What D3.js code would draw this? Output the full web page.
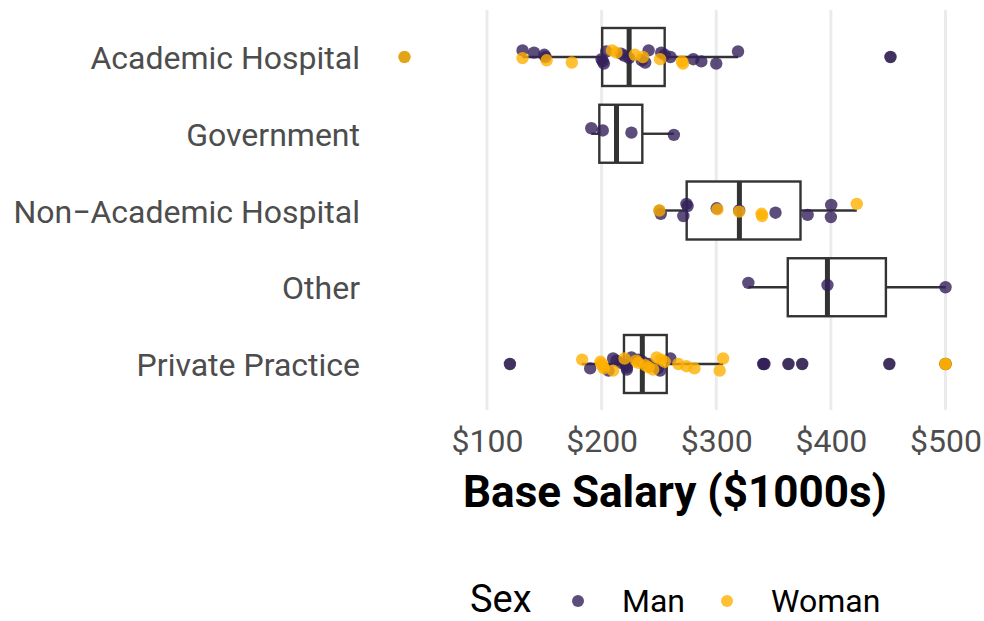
<!DOCTYPE html>
<html>
<head>
<meta charset="utf-8">
<script src="https://cdn.jsdelivr.net/npm/d3@7"></script>
<style>
  html, body { margin: 0; padding: 0; background: #fff; }
  svg { display: block; font-family: Roboto, "Noto Sans", sans-serif; }
</style>
</head>
<body>
<svg id="chart" width="984" height="621"></svg>
<script>
// ---------- data (base salary, $1000s) ----------
const categories = ["Academic Hospital", "Government", "Non\u2212Academic Hospital", "Other", "Private Practice"];
const sexes = ["Man", "Woman"];
const xTicks = [100, 200, 300, 400, 500];

const academicMen   = [131, 141, 150, 151, 200, 201, 202, 204, 217, 220, 224, 235, 238, 241, 252, 255, 260, 280, 287, 300, 319, 452];
const academicWomen = [28, 131, 152, 174, 209, 213, 229, 236, 251, 270, 271];
const governmentMen   = [191, 201, 226, 263];
const governmentWomen = [];
const nonAcademicMen   = [251.6, 271.3, 274, 275, 300.4, 320, 351.7, 379.7, 400, 400.3];
const nonAcademicWomen = [250.4, 301, 320, 339.5, 340, 422.6];
const otherMen   = [328, 397, 500];
const otherWomen = [];
const privateMen   = [120, 190, 206, 210, 213, 217, 221, 222, 222, 226, 232, 236, 241, 242, 249, 251, 260, 341, 342, 363, 375, 451, 500];
const privateWomen = [183, 199, 200, 201, 202, 210, 220, 230, 232, 238, 241, 245, 248, 252, 255, 267, 274, 281, 303, 306, 500, 500];

// box-plot summaries (lower whisker, Q1, median, Q3, upper whisker)
const whiskerLow  = [131, 191, 250.5, 328, 182.6];
const quart1      = [200.5, 198, 274.2, 362.4, 219.5];
const medians     = [224, 213, 320.2, 397, 235.5];
const quart3      = [255, 235.5, 373.5, 448, 256.8];
const whiskerHigh = [319, 263, 422.6, 500, 306];

const menByCat   = [academicMen, governmentMen, nonAcademicMen, otherMen, privateMen];
const womenByCat = [academicWomen, governmentWomen, nonAcademicWomen, otherWomen, privateWomen];

// ---------- styles ----------
const colors = { Man: "#34215A", Woman: "#FFB000" };
const pointOpacity = 0.8;
const pointR = 6.2;

// ---------- scales ----------
const svg = d3.select("#chart");
const x = d3.scaleLinear().domain([100, 500]).range([487, 945.5]);
const y = d3.scalePoint().domain(categories).range([57, 364]);
const panelTop = 10, panelBottom = 410;

// gridlines
svg.append("g").selectAll("line").data(xTicks).join("line")
  .attr("x1", d => x(d)).attr("x2", d => x(d))
  .attr("y1", panelTop).attr("y2", panelBottom)
  .attr("stroke", "#EBEBEB").attr("stroke-width", 3);

// x axis tick labels
const xAxis = d3.axisBottom(x).tickValues(xTicks).tickFormat(d => "$" + d).tickSize(0).tickPadding(0);
const gx = svg.append("g").attr("transform", `translate(0,${panelBottom})`).call(xAxis);
gx.select(".domain").remove();
gx.selectAll("text").attr("font-size", 32).attr("fill", "#4D4D4D")
  .attr("dy", null).attr("y", 42).attr("font-family", "Roboto");

// y axis labels
const yAxis = d3.axisLeft(y).tickSize(0).tickPadding(0);
const gy = svg.append("g").attr("transform", "translate(360,0)").call(yAxis);
gy.select(".domain").remove();
gy.selectAll("text").attr("font-size", 32).attr("fill", "#4D4D4D")
  .attr("dy", "0.36em").attr("x", 0).attr("font-family", "Roboto");

// boxplots
const boxH = 58;
const stats = categories.map((c, i) => ({
  cat: c, lo: whiskerLow[i], q1: quart1[i], med: medians[i], q3: quart3[i], hi: whiskerHigh[i]
}));
const gb = svg.append("g");
stats.forEach(s => {
  const cy = y(s.cat);
  gb.append("line").attr("x1", x(s.lo)).attr("x2", x(s.q1)).attr("y1", cy).attr("y2", cy)
    .attr("stroke", "#333333").attr("stroke-width", 2.4);
  gb.append("line").attr("x1", x(s.q3)).attr("x2", x(s.hi)).attr("y1", cy).attr("y2", cy)
    .attr("stroke", "#333333").attr("stroke-width", 2.4);
  gb.append("rect").attr("x", x(s.q1)).attr("y", cy - boxH / 2)
    .attr("width", x(s.q3) - x(s.q1)).attr("height", boxH)
    .attr("fill", "#FFFFFF").attr("stroke", "#333333").attr("stroke-width", 2.4);
  gb.append("line").attr("x1", x(s.med)).attr("x2", x(s.med))
    .attr("y1", cy - boxH / 2).attr("y2", cy + boxH / 2)
    .attr("stroke", "#333333").attr("stroke-width", 5);
});

// points table
const points = [];
categories.forEach((c, i) => {
  menByCat[i].forEach(v => points.push({ cat: c, ci: i, sex: "Man", v }));
  womenByCat[i].forEach(v => points.push({ cat: c, ci: i, sex: "Woman", v }));
});
points.forEach(p => { p.out = p.v < whiskerLow[p.ci] - 0.01 || p.v > whiskerHigh[p.ci] + 0.01; });
// deterministic small vertical jitter (none for outliers, which sit on the boxplot outlier mark)
const jit = (p, i) => p.out ? 0 : (((i * 7919) % 13) - 6) * 1.1;

// boxplot outliers (drawn under the jittered points)
svg.append("g").selectAll("circle").data(points.filter(p => p.out)).join("circle")
  .attr("cx", d => x(d.v)).attr("cy", d => y(d.cat))
  .attr("r", pointR - 0.3).attr("fill", "#000000").attr("opacity", 0.55);

// jittered points
svg.append("g").selectAll("circle").data(points).join("circle")
  .attr("cx", d => x(d.v)).attr("cy", (d, i) => y(d.cat) + jit(d, i))
  .attr("r", pointR).attr("fill", d => colors[d.sex]).attr("fill-opacity", pointOpacity);

// axis title
svg.append("text").attr("x", 675).attr("y", 507).attr("text-anchor", "middle")
  .attr("font-size", 44).attr("font-weight", 700).attr("fill", "#000").text("Base Salary ($1000s)");

// legend
const lg = svg.append("g");
lg.append("text").attr("x", 470).attr("y", 612).attr("font-size", 38).attr("fill", "#000").text("Sex");
const legX = { Man: 578, Woman: 727 };
sexes.forEach(s => {
  lg.append("circle").attr("cx", legX[s]).attr("cy", 601).attr("r", 6)
    .attr("fill", colors[s]).attr("fill-opacity", pointOpacity);
  lg.append("text").attr("x", legX[s] + 44).attr("y", 612).attr("font-size", 32)
    .attr("fill", "#000").text(s);
});
</script>
</body>
</html>
